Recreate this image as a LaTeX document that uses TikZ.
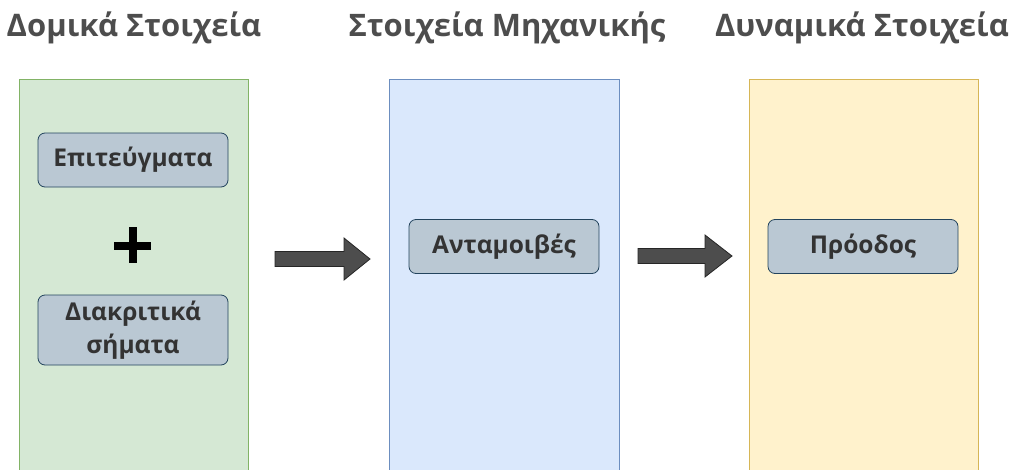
\documentclass[tikz,border=0pt]{standalone}
\usepackage{fontspec}
\setmainfont{Open Sans}
\definecolor{gfill}{HTML}{D5E8D4}\definecolor{gline}{HTML}{82B366}
\definecolor{bfill}{HTML}{DAE8FC}\definecolor{bline}{HTML}{6C8EBF}
\definecolor{yfill}{HTML}{FFF2CC}\definecolor{yline}{HTML}{D6B656}
\definecolor{cardfill}{HTML}{BAC8D3}\definecolor{cardline}{HTML}{23445D}
\definecolor{titlegray}{HTML}{4D4D4D}
\definecolor{cardtext}{HTML}{333333}
\definecolor{arrowfill}{HTML}{4D4D4D}
\begin{document}
\begin{tikzpicture}[x=1pt,y=-1pt,
  column/.style={draw=#1line,fill=#1fill,line width=1pt},
  heading/.style={font=\bfseries\fontsize{31}{35}\selectfont,text=titlegray,inner sep=0pt},
  card/.style={draw=cardline,fill=cardfill,rounded corners=7pt,line width=0.8pt,
    minimum width=190pt,minimum height=54pt,inner sep=0pt,align=center,
    font=\bfseries\fontsize{24.5}{33}\selectfont,text=cardtext},
  flow/.style={draw=black!85,fill=arrowfill,line width=0.8pt,line join=miter}]
\useasboundingbox (0,0) rectangle (1012,469);
\begin{scope}
\clip (0,0) rectangle (1012,469);
% three stage columns
\draw[column=g] (19,79) rectangle (248,480);
\draw[column=b] (389,79) rectangle (619,480);
\draw[column=y] (749,79) rectangle (978,480);
\end{scope}
% headings
\node[heading] (h1) at (134,28) {Δομικά Στοιχεία};
\node[heading] (h2) at (507,28) {Στοιχεία Μηχανικής};
\node[heading] (h3) at (862,28) {Δυναμικά Στοιχεία};
% cards
\node[card] (ach) at (133,160) {Επιτεύγματα};
\node[card,minimum height=70pt] (badge) at (133,330) {Διακριτικά\\σήματα};
\node[card] (rew) at (504,246.5) {Ανταμοιβές};
\node[card] (prog) at (863,246.5) {Πρόοδος};
% plus sign
\fill (114,241.5) rectangle (151,249.5);
\fill (128.5,227) rectangle (136.5,263);
% flow arrows between columns (block arrows)
\draw[flow] (275,251.5) -- (344,251.5) -- (344,238) -- (370,259) -- (344,280)
  -- (344,266.5) -- (275,266.5) -- cycle;
\draw[flow] (638,248.5) -- (705,248.5) -- (705,235) -- (732,256) -- (705,277)
  -- (705,263.5) -- (638,263.5) -- cycle;
\end{tikzpicture}
\end{document}
